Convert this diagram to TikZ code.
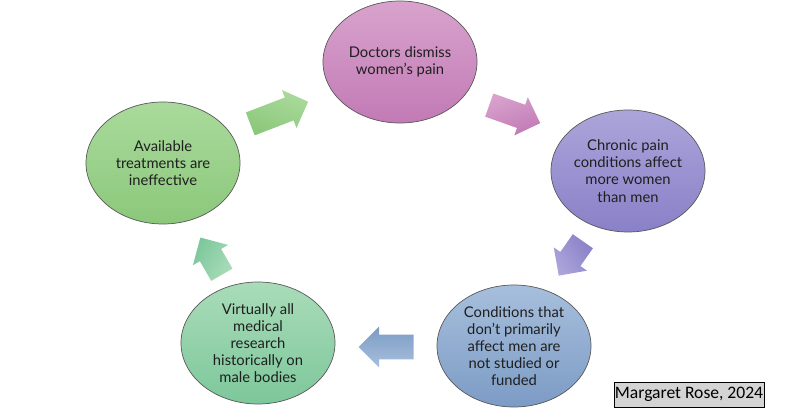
\documentclass[tikz,border=0pt]{standalone}
\usepackage{fontspec}
\setmainfont{Lato}
\newfontfamily\creditfont{Carlito}
\usepackage{tikz}
\usetikzlibrary{shapes.geometric,shapes.arrows,positioning}

\definecolor{pinkA}{HTML}{D8A3CD}
\definecolor{pinkB}{HTML}{C27AB5}
\definecolor{violetA}{HTML}{ABA5DA}
\definecolor{violetB}{HTML}{8A80C8}
\definecolor{blueA}{HTML}{A7BFDC}
\definecolor{blueB}{HTML}{7C9BC5}
\definecolor{mintA}{HTML}{A9DCB9}
\definecolor{mintB}{HTML}{7DC79B}
\definecolor{leafA}{HTML}{AADA9C}
\definecolor{leafB}{HTML}{8BC87B}
\definecolor{creditgray}{HTML}{D4D4D4}

\begin{document}
\begin{tikzpicture}[
  oval/.style={ellipse, draw=black!65, line width=0.5pt, inner sep=0pt,
    minimum width=3.85cm, minimum height=3.05cm, align=center,
    text=black!88, font=\fontsize{10.5}{12.2}\selectfont},
  blockarrow/.style={single arrow, single arrow head extend=0.2cm,
    inner xsep=0pt, inner ysep=0.3cm, anchor=tail}]

\useasboundingbox (0,0) rectangle (20,-10.25);

% Ovali
\node[oval, top color=pinkA, bottom color=pinkB] (dismiss) at (10,-1.55)
  {Doctors dismiss\\women's pain};
\node[oval, top color=violetA, bottom color=violetB] (chronic) at (15.7,-4.275)
  {Chronic pain\\conditions affect\\more women\\than men};
\node[oval, top color=blueA, bottom color=blueB] (unstudied) at (12.85,-8.65)
  {Conditions that\\don't primarily\\affect men are\\not studied or\\funded};
\node[oval, top color=mintA, bottom color=mintB] (research) at (6.45,-8.575)
  {Virtually all\\medical\\research\\historically on\\male bodies};
\node[oval, top color=leafA, bottom color=leafB] (treatments) at (4.075,-4.075)
  {Available\\treatments are\\ineffective};

% Frecce
\node[blockarrow, rotate=21, minimum height=1.55cm, top color=leafA, bottom color=leafB,
  shading angle=-21] (arr1) at (6.25,-3.1) {};
\node[blockarrow, rotate=-19.5, minimum height=1.35cm, top color=pinkA, bottom color=pinkB,
  shading angle=19.5] (arr2) at (12.225,-2.625) {};
\node[blockarrow, rotate=235, minimum height=1.05cm, top color=violetA, bottom color=violetB,
  shading angle=-235] (arr3) at (14.575,-6.025) {};
\node[blockarrow, rotate=180, minimum height=1.375cm, top color=blueA, bottom color=blueB,
  shading angle=-180] (arr4) at (10.35,-8.675) {};
\node[blockarrow, rotate=120, minimum height=1.075cm, top color=mintA, bottom color=mintB,
  shading angle=-120] (arr5) at (5.55,-6.875) {};

% Firma
\node[draw=black, line width=0.7pt, fill=creditgray, minimum width=3.75cm,
  minimum height=0.625cm, inner sep=0pt, font=\creditfont\fontsize{12.5}{14}\selectfont]
  (credit) at (17.225,-9.8625) {Margaret Rose, 2024};

\end{tikzpicture}
\end{document}
